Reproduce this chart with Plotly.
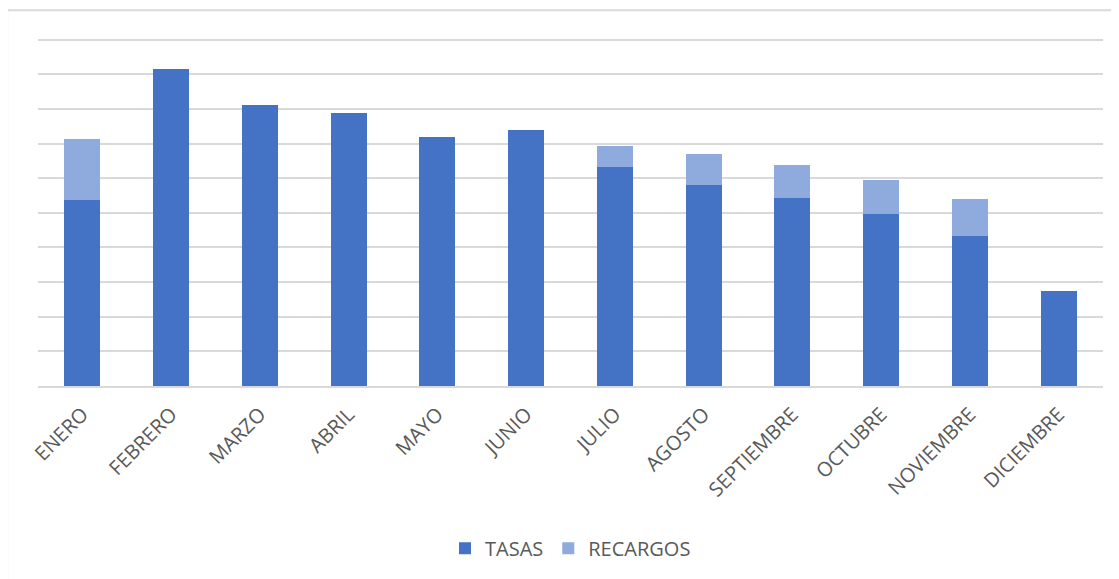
import plotly.graph_objects as go

meses = ["ENERO", "FEBRERO", "MARZO", "ABRIL", "MAYO", "JUNIO", "JULIO",
         "AGOSTO", "SEPTIEMBRE", "OCTUBRE", "NOVIEMBRE", "DICIEMBRE"]
tasas = [5.38, 9.16, 8.12, 7.89, 7.20, 7.40, 6.33, 5.81, 5.43, 4.97, 4.34, 2.75]
recargos = [1.76, 0.0, 0.0, 0.0, 0.0, 0.0, 0.61, 0.90, 0.96, 0.98, 1.06, 0.0]

fig = go.Figure()
fig.add_trace(go.Bar(x=meses, y=tasas, name="TASAS", marker_color="#4472C4",
                     marker_line_width=0))
fig.add_trace(go.Bar(x=meses, y=recargos, name="RECARGOS", marker_color="#8FAADC",
                     marker_line_width=0))

fig.update_layout(
    barmode="stack",
    bargap=0.595,
    width=1111, height=571,
    margin=dict(l=30, r=16, t=30, b=193),
    paper_bgcolor="white", plot_bgcolor="white",
    font=dict(family="Open Sans, Noto Sans, sans-serif", color="#595959"),
    legend=dict(orientation="h", x=0.5, xanchor="center", y=-0.466, yanchor="middle",
                font=dict(size=20, color="#595959"), traceorder="normal"),
    showlegend=True,
)
fig.update_xaxes(tickangle=-45, tickfont=dict(size=20, color="#595959"),
                 ticklabelstandoff=7,
                 showline=True, linecolor="#D9D9D9", linewidth=1.5, ticks="")
fig.update_yaxes(range=[0, 10.05], dtick=1, showticklabels=False, showgrid=True,
                 gridcolor="#D9D9D9", gridwidth=1.5, zeroline=False)

# chart area border (left and top visible)
fig.add_shape(type="line", xref="paper", yref="paper", x0=-0.029, x1=1.2,
              y0=1.08, y1=1.08, line=dict(color="#D9D9D9", width=2))
fig.add_shape(type="line", xref="paper", yref="paper", x0=-0.029, x1=-0.029,
              y0=1.08, y1=-0.7, line=dict(color="#D9D9D9", width=2))

fig.write_html("out.html")
